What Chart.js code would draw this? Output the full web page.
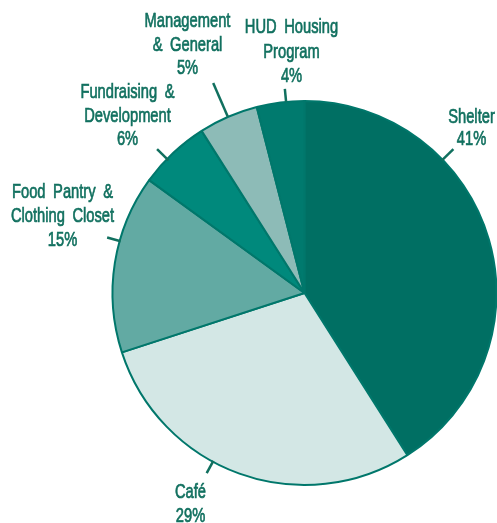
<!DOCTYPE html>
<html>
<head>
<meta charset="utf-8">
<style>
  html, body { margin: 0; padding: 0; background: #ffffff; }
  #wrap { width: 497px; height: 523px; position: relative; }
</style>
<script src="https://cdn.jsdelivr.net/npm/chart.js@4.4.1/dist/chart.umd.min.js"></script>
</head>
<body>
<div id="wrap"><canvas id="c" width="497" height="523"></canvas></div>
<script>
// ---- data ----
const categories = ["Shelter", "Café", "Food Pantry & Clothing Closet", "Fundraising & Development", "Management & General", "HUD Housing Program"];
const labelLines = [["Shelter"], ["Café"], ["Food Pantry &", "Clothing Closet"], ["Fundraising &", "Development"], ["Management", "& General"], ["HUD Housing", "Program"]];
const values = [41, 29, 15, 6, 5, 4];

// ---- style ----
const sliceColors = ["#006f63", "#d3e7e5", "#62aaa3", "#00897c", "#8dbbb7", "#007a6e"];
const borderColor = "#00776b";
const textColor = "#11705f";
// leader-line angle (deg clockwise from top), radial extents, text anchor offsets from centre
const labelLayout = [
  { angle: 46,    r0: 191, r1: 207, dx: 167, dy: -170, lh: 22 },
  { angle: 208.5, r0: 191, r1: 205, dx: -114, dy: 205, lh: 24 },
  { angle: 285.7, r0: 191, r1: 205, dx: -242, dy: -95, lh: 24 },
  { angle: 314.3, r0: 190, r1: 206, dx: -177, dy: -195, lh: 23.5 },
  { angle: 336.5, r0: 192, r1: 229, dx: -117, dy: -266, lh: 23.5 },
  { angle: 354.5, r0: 192, r1: 205, dx: -13, dy: -260, lh: 24.5 }
];

const labelPlugin = {
  id: 'pieLabels',
  afterDraw(chart) {
    const ctx = chart.ctx;
    const meta = chart.getDatasetMeta(0);
    const arc0 = meta.data[0];
    const cx = arc0.x, cy = arc0.y;
    const total = values.reduce((a, b) => a + b, 0);
    ctx.save();
    ctx.strokeStyle = textColor;
    ctx.fillStyle = textColor;
    ctx.lineWidth = 2.5;
    labelLayout.forEach((L, i) => {
      const a = L.angle * Math.PI / 180;
      const sx = Math.sin(a), sy = -Math.cos(a);
      ctx.beginPath();
      ctx.moveTo(cx + sx * L.r0, cy + sy * L.r0);
      ctx.lineTo(cx + sx * L.r1, cy + sy * L.r1);
      ctx.stroke();
      const lines = labelLines[i].concat([Math.round(values[i] / total * 100) + "%"]);
      const tx = cx + L.dx, ty = cy + L.dy;
      lines.forEach((t, k) => {
        ctx.save();
        ctx.translate(tx, ty + k * L.lh);
        ctx.scale(0.7, 1);
        ctx.font = "21px 'Liberation Sans', sans-serif";
        try { ctx.wordSpacing = "5px"; } catch (e) {}
        ctx.textAlign = "center";
        ctx.textBaseline = "alphabetic";
        ctx.lineWidth = 0.7;
        ctx.strokeText(t, 0, 0);
        ctx.fillText(t, 0, 0);
        ctx.restore();
      });
    });
    ctx.restore();
  }
};

new Chart(document.getElementById('c'), {
  type: 'pie',
  data: {
    labels: categories,
    datasets: [{
      data: values,
      backgroundColor: sliceColors,
      borderColor: borderColor,
      borderWidth: 2
    }]
  },
  options: {
    responsive: false,
    animation: false,
    radius: 192,
    layout: { padding: { left: 112, right: 0, top: 100, bottom: 37 } },
    plugins: {
      legend: { display: false },
      tooltip: { enabled: false }
    }
  },
  plugins: [labelPlugin]
});
</script>
</body>
</html>
